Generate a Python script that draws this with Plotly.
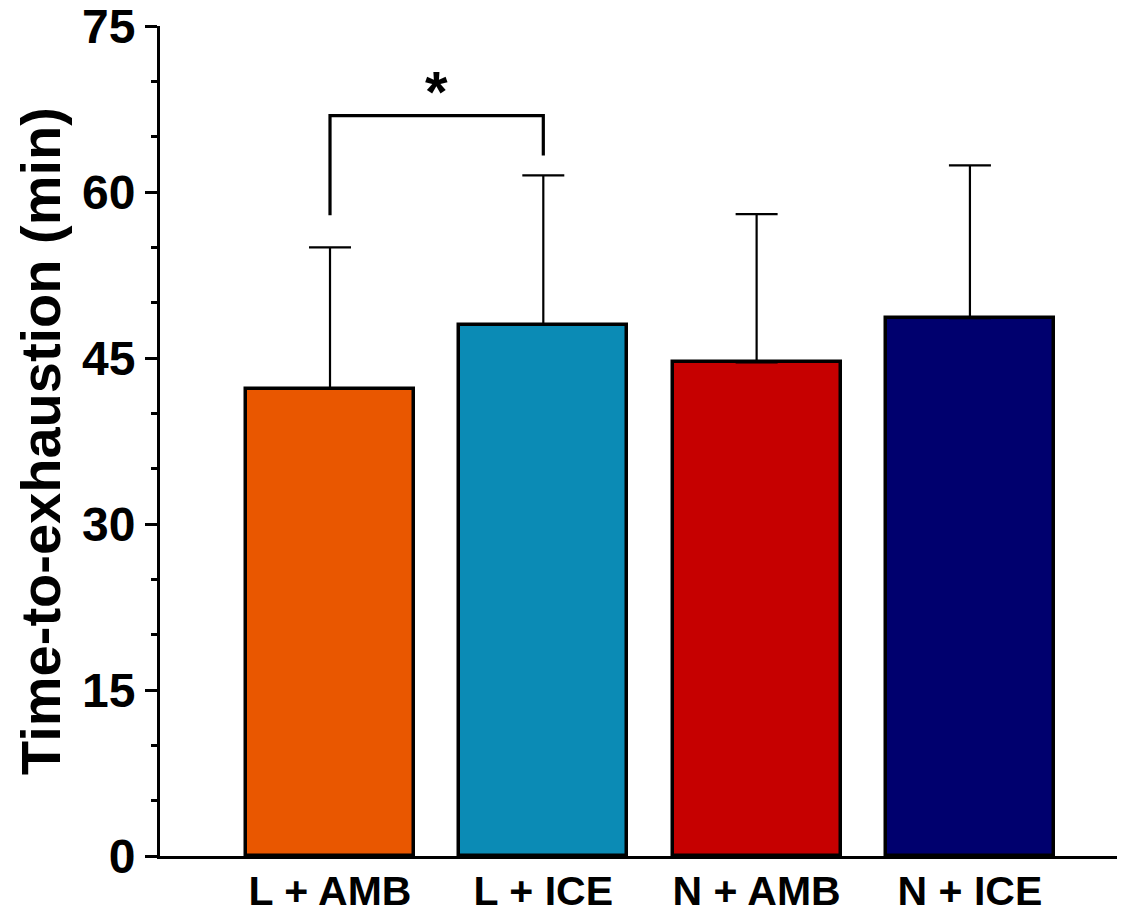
import plotly.graph_objects as go

# ---- data ----
categories = ["L + AMB", "L + ICE", "N + AMB", "N + ICE"]
means = [42.2, 48.0, 44.6, 48.6]
sd_upper = [12.8, 13.5, 13.4, 13.8]
colors = ["#E95700", "#0B8BB5", "#C60000", "#00006E"]
y_ticks = [0, 15, 30, 45, 60, 75]

# significance bracket between group 0 and group 1
sig_pair = [0, 1]
sig_left_start = 57.9
sig_right_start = 63.3
sig_top = 66.9
sig_label = "*"

xpos = list(range(len(categories)))

fig = go.Figure()
fig.add_trace(go.Bar(
    x=xpos, y=means, width=0.788,
    marker=dict(color=colors, line=dict(color="black", width=3.5)),
    error_y=dict(type="data", array=sd_upper, arrayminus=[0] * len(means),
                 symmetric=False, color="black", thickness=2.2, width=21),
    showlegend=False,
))

# bracket
fig.add_trace(go.Scatter(
    x=[sig_pair[0], sig_pair[0], sig_pair[1], sig_pair[1]],
    y=[sig_left_start, sig_top, sig_top, sig_right_start],
    mode="lines", line=dict(color="black", width=3.2),
    showlegend=False, hoverinfo="skip",
))
fig.add_annotation(
    x=(sig_pair[0] + sig_pair[1]) / 2, y=sig_top, text=sig_label,
    showarrow=False, yanchor="bottom", yshift=-10,
    font=dict(family="Liberation Sans", size=58, color="black", weight="bold"),
)

fig.update_layout(
    width=1117, height=907,
    margin=dict(l=152, r=0, t=18, b=59, autoexpand=False),
    plot_bgcolor="white", paper_bgcolor="white",
    bargap=0,
    font=dict(family="Liberation Sans", color="black"),
)
fig.update_xaxes(
    range=[-0.797, 3.727],
    tickvals=xpos, ticktext=categories,
    showline=True, linewidth=3, linecolor="black",
    ticks="", showgrid=False, zeroline=False,
    ticklabelstandoff=-3,
    tickfont=dict(family="Liberation Sans", size=41, color="black", weight="bold"),
)
fig.update_yaxes(
    range=[0, 75],
    tickvals=y_ticks,
    ticklabeloverflow="allow",
    showline=True, linewidth=3, linecolor="black",
    ticks="outside", ticklen=12, tickwidth=3, tickcolor="black",
    minor=dict(dtick=5, ticks="outside", ticklen=6, tickwidth=3, tickcolor="black"),
    showgrid=False, zeroline=False,
    tickfont=dict(family="Liberation Sans", size=48, color="black", weight="bold"),
    title=dict(text="Time-to-exhaustion (min)", standoff=4,
               font=dict(family="Liberation Sans", size=56, color="black", weight="bold")),
)

fig.write_html("out.html")
